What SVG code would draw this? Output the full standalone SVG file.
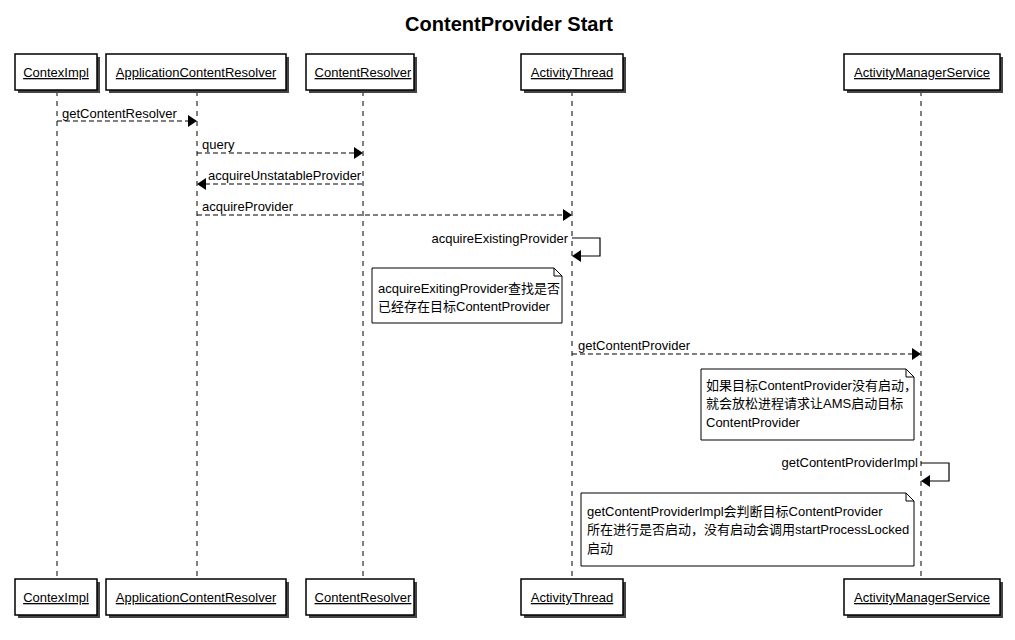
<svg xmlns="http://www.w3.org/2000/svg" width="1015" height="640" viewBox="0 0 1015 640">
<style>
.t{font-family:"Liberation Sans",Arial,"Noto Sans CJK SC",sans-serif;font-size:13px;fill:#000}
.pn{font-family:"Liberation Sans",Arial,sans-serif;font-size:13px;fill:#000;text-anchor:middle;text-decoration:underline}
.box{fill:#fff;stroke:#000;stroke-width:1.5}
.sh{fill:#444}
.life{stroke:#000;stroke-width:1;stroke-dasharray:5,5;fill:none}
.msg{stroke:#000;stroke-width:1;stroke-dasharray:5,3;fill:none}
.self{stroke:#000;stroke-width:1.2;fill:none}
.note{fill:#fff;stroke:#000;stroke-width:1}
.ah{fill:#000}
</style>
<rect width="1015" height="640" fill="#fff"/>
<text x="509" y="31" text-anchor="middle" style="font-family:'Liberation Sans',Arial,sans-serif;font-size:20px;font-weight:bold">ContentProvider Start</text>

<g id="lifelines">
<line class="life" x1="57" y1="91" x2="57" y2="579"/>
<line class="life" x1="197" y1="91" x2="197" y2="579"/>
<line class="life" x1="363" y1="91" x2="363" y2="579"/>
<line class="life" x1="572" y1="91" x2="572" y2="579"/>
<line class="life" x1="921" y1="91" x2="921" y2="579"/>
</g>

<g id="p-contextimpl">
<rect class="sh" x="18" y="57" width="82" height="36"/><rect class="box" x="15" y="54" width="82" height="36"/>
<text class="pn" x="56" y="77">ContexImpl</text>
<rect class="sh" x="18" y="582" width="82" height="36"/><rect class="box" x="15" y="579" width="82" height="36"/>
<text class="pn" x="56" y="602">ContexImpl</text>
</g>
<g id="p-appcontentresolver">
<rect class="sh" x="109" y="57" width="180" height="36"/><rect class="box" x="106" y="54" width="180" height="36"/>
<text class="pn" x="196" y="77">ApplicationContentResolver</text>
<rect class="sh" x="109" y="582" width="180" height="36"/><rect class="box" x="106" y="579" width="180" height="36"/>
<text class="pn" x="196" y="602">ApplicationContentResolver</text>
</g>
<g id="p-contentresolver">
<rect class="sh" x="309" y="57" width="108" height="36"/><rect class="box" x="306" y="54" width="108" height="36"/>
<text class="pn" x="363" y="77">ContentResolver</text>
<rect class="sh" x="309" y="582" width="108" height="36"/><rect class="box" x="306" y="579" width="108" height="36"/>
<text class="pn" x="363" y="602">ContentResolver</text>
</g>
<g id="p-activitythread">
<rect class="sh" x="524" y="57" width="102" height="36"/><rect class="box" x="521" y="54" width="102" height="36"/>
<text class="pn" x="572" y="77">ActivityThread</text>
<rect class="sh" x="524" y="582" width="102" height="36"/><rect class="box" x="521" y="579" width="102" height="36"/>
<text class="pn" x="572" y="602">ActivityThread</text>
</g>
<g id="p-ams">
<rect class="sh" x="847" y="57" width="156" height="36"/><rect class="box" x="844" y="54" width="156" height="36"/>
<text class="pn" x="922" y="77">ActivityManagerService</text>
<rect class="sh" x="847" y="582" width="156" height="36"/><rect class="box" x="844" y="579" width="156" height="36"/>
<text class="pn" x="922" y="602">ActivityManagerService</text>
</g>

<g id="connectors">
<line class="msg" x1="57" y1="121" x2="189" y2="121"/>
<polygon class="ah" points="197,121 188,115 188,127"/>
<text class="t" x="62" y="118">getContentResolver</text>

<line class="msg" x1="197" y1="153" x2="355" y2="153"/>
<polygon class="ah" points="363,153 354,147 354,159"/>
<text class="t" x="202" y="149">query</text>

<line class="msg" x1="205" y1="184" x2="363" y2="184"/>
<polygon class="ah" points="197,184 206,178 206,190"/>
<text class="t" x="208" y="180">acquireUnstatableProvider</text>

<line class="msg" x1="197" y1="215" x2="564" y2="215"/>
<polygon class="ah" points="572,215 563,209 563,221"/>
<text class="t" x="202" y="211">acquireProvider</text>

<polyline class="self" points="572,238 600,238 600,256 580,256"/>
<polygon class="ah" points="572,256 581,250 581,262"/>
<text class="t" x="568" y="243" text-anchor="end">acquireExistingProvider</text>

<line class="msg" x1="572" y1="354" x2="913" y2="354"/>
<polygon class="ah" points="921,354 912,348 912,360"/>
<text class="t" x="578" y="350">getContentProvider</text>

<polyline class="self" points="921,463 949,463 949,481 929,481"/>
<polygon class="ah" points="921,481 930,475 930,487"/>
<text class="t" x="918" y="467" text-anchor="end">getContentProviderImpl</text>
</g>

<g id="note1">
<path class="note" d="M372,268 H554 L562,276 V323 H372 Z M554,268 V276 H562"/>
<text class="t" x="378" y="293">acquireExitingProvider查找是否</text>
<text class="t" x="378" y="311">已经存在目标ContentProvider</text>
</g>
<g id="note2">
<path class="note" d="M701,369 H906 L914,377 V440 H701 Z M906,369 V377 H914"/>
<text class="t" x="706" y="390">如果目标ContentProvider没有启动，</text>
<text class="t" x="706" y="408">就会放松进程请求让AMS启动目标</text>
<text class="t" x="706" y="427">ContentProvider</text>
</g>
<g id="note3">
<path class="note" d="M581,493 H906 L914,501 V566 H581 Z M906,493 V501 H914"/>
<text class="t" x="587" y="516">getContentProviderImpl会判断目标ContentProvider</text>
<text class="t" x="587" y="534">所在进行是否启动，没有启动会调用startProcessLocked</text>
<text class="t" x="587" y="553">启动</text>
</g>
</svg>
